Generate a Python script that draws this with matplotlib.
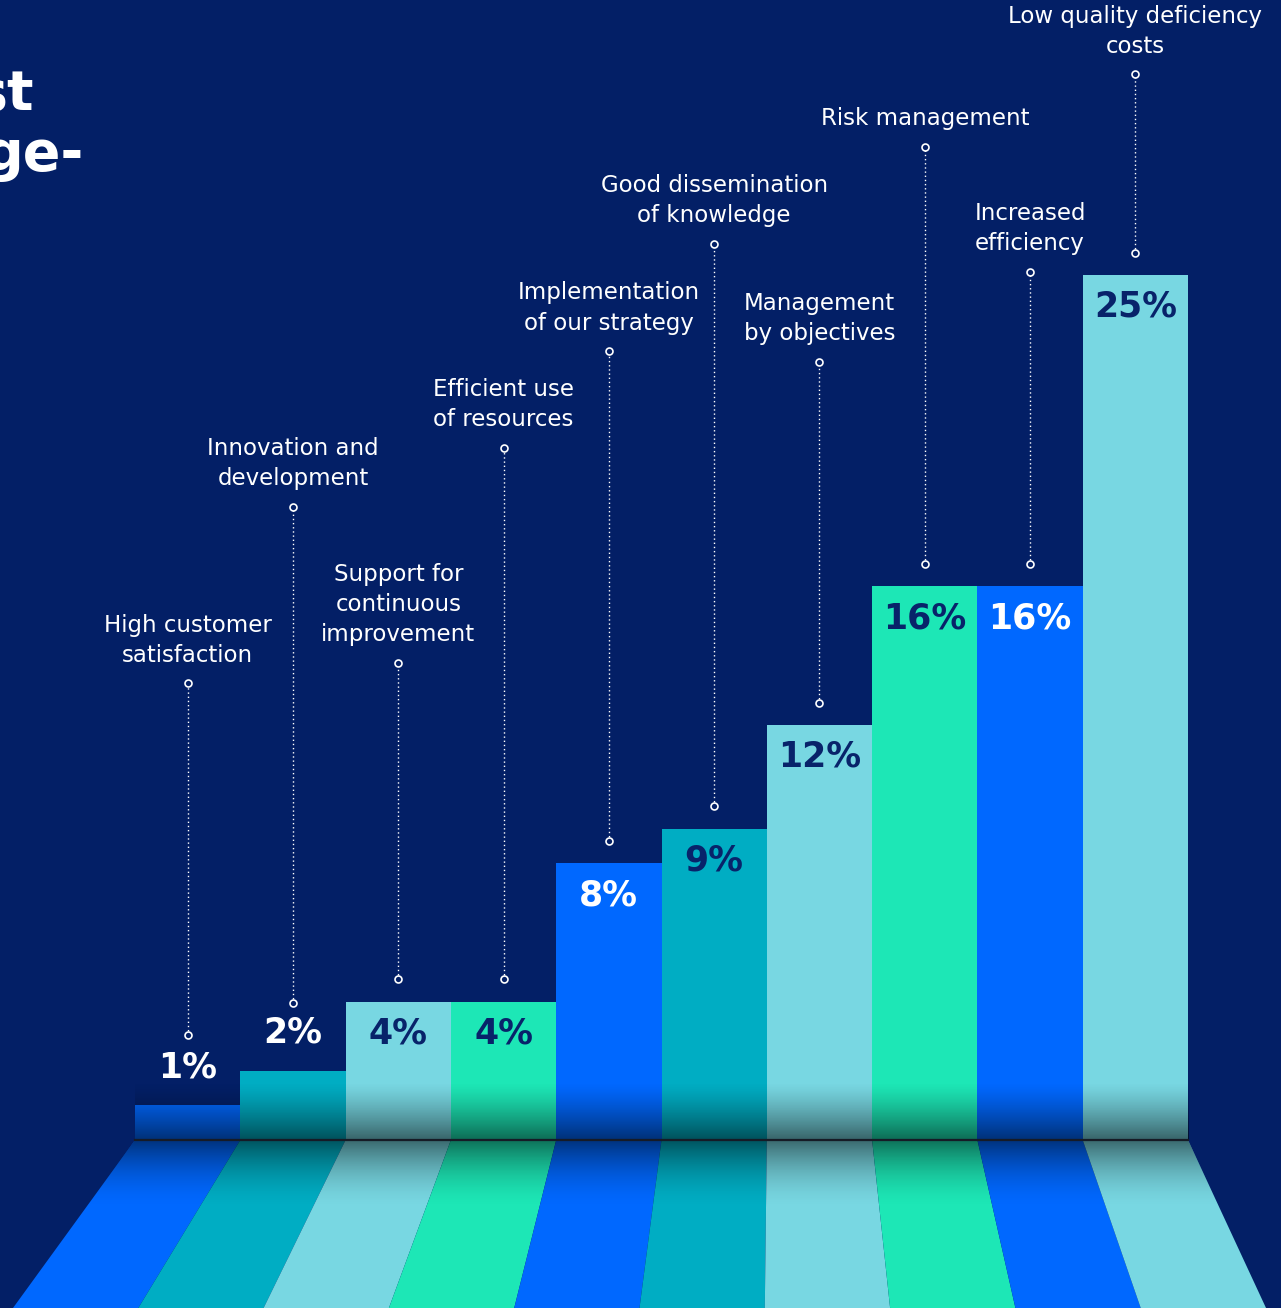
import numpy as np
import matplotlib.pyplot as plt
from matplotlib.patches import Polygon

# colours
NAVY = '#031f66'
TEXT_NAVY = '#08236a'
BLUE = '#0068ff'
TEAL = '#00adc3'
CYAN = '#78d7e2'
MINT = '#1de7b6'

# data
categories = ["High customer\nsatisfaction", "Innovation and\ndevelopment",
              "Support for\ncontinuous\nimprovement", "Efficient use\nof resources",
              "Implementation\nof our strategy", "Good dissemination\nof knowledge",
              "Management\nby objectives", "Risk management",
              "Increased\nefficiency", "Low quality deficiency\ncosts"]
values = [1, 2, 4, 4, 8, 9, 12, 16, 16, 25]
value_labels = [f"{v}%" for v in values]
bar_colors = [BLUE, TEAL, CYAN, MINT, BLUE, TEAL, CYAN, MINT, BLUE, CYAN]
# height (in %) where each dotted leader line starts under its label
leader_top = [13.2, 18.3, 13.8, 20.0, 22.8, 25.9, 22.5, 28.7, 25.1, 30.8]

fig = plt.figure(figsize=(12.81, 13.08), dpi=100)
fig.patch.set_facecolor(NAVY)
ax = fig.add_axes([0, 0, 1, 1])
ax.set_facecolor(NAVY)
ax.axis('off')

x = np.arange(len(values))
XMIN, XMAX = -1.782, 10.383
YMIN, YMAX = -4.855, 32.95

# bars
ax.bar(x, values, width=1.0, color=bar_colors, zorder=2, linewidth=0)

# dark shading at the foot of the bars
n = len(values)
ramp = np.zeros((100, 1, 4))
ramp[:, 0, 3] = np.linspace(0.62, 0.0, 100) ** 1.3
ax.imshow(ramp, extent=[-0.5, n - 0.5, 0, 1.65], origin='lower',
          aspect='auto', interpolation='bilinear', zorder=3)

# floor in perspective
edges = np.arange(n + 1) - 0.5
shift = (-122 + 200 * np.linspace(0, 1, n + 1)) / 105.3
bottom = edges + shift
for i in range(n):
    poly = Polygon([[edges[i], 0], [edges[i + 1], 0],
                    [bottom[i + 1], YMIN], [bottom[i], YMIN]],
                   closed=True, facecolor=bar_colors[i], edgecolor='none', zorder=2)
    ax.add_patch(poly)
floor = Polygon([[edges[0], 0], [edges[-1], 0], [bottom[-1], YMIN], [bottom[0], YMIN]],
                closed=True, facecolor='none', edgecolor='none')
ax.add_patch(floor)
ramp2 = np.zeros((100, 1, 4))
ramp2[:, 0, 3] = np.linspace(0.0, 0.7, 100) ** 1.8
img = ax.imshow(ramp2, extent=[bottom[0], bottom[-1], -2.0, 0], origin='lower',
                aspect='auto', interpolation='bilinear', zorder=3)
img.set_clip_path(floor)

ax.plot([edges[0], edges[-1]], [0, 0], color='#161b26', lw=1.6, zorder=4)

# value labels
for i, (v, lab) in enumerate(zip(values, value_labels)):
    if v < 3:
        ty = v + 1.1
        col = 'white'
    else:
        ty = v - 0.92
        col = 'white' if bar_colors[i] == BLUE else TEXT_NAVY
    ax.text(i, ty, lab, ha='center', va='center', color=col,
            fontsize=25, fontweight='bold', zorder=5)

# category labels with dotted leaders
for i, (cat, v, top) in enumerate(zip(categories, values, leader_top)):
    low = v + 1.95 if v < 3 else v + 0.64
    if v == 1:
        low = v + 2.03
    ax.plot([i, i], [low, top], color='white', lw=1, ls=(0, (1, 2)), zorder=4)
    ax.plot([i, i], [low, top], ls='none', marker='o', ms=5, mfc=NAVY,
            mec='white', mew=1.2, zorder=5)
    ax.text(i, top + 0.48, cat, ha='center', va='bottom', color='white',
            fontsize=16.5, linespacing=1.4, zorder=5)

# clipped title fragments at the top left
fig.text(34 / 1281, 1 - 110 / 1308, "st", ha='right', va='baseline',
         color='white', fontsize=40, fontweight='bold')
fig.text(84 / 1281, 1 - 170 / 1308, "ge-", ha='right', va='baseline',
         color='white', fontsize=40, fontweight='bold')

ax.set_xlim(XMIN, XMAX)
ax.set_ylim(YMIN, YMAX)

fig.savefig('out.png', dpi=100, facecolor=NAVY)
